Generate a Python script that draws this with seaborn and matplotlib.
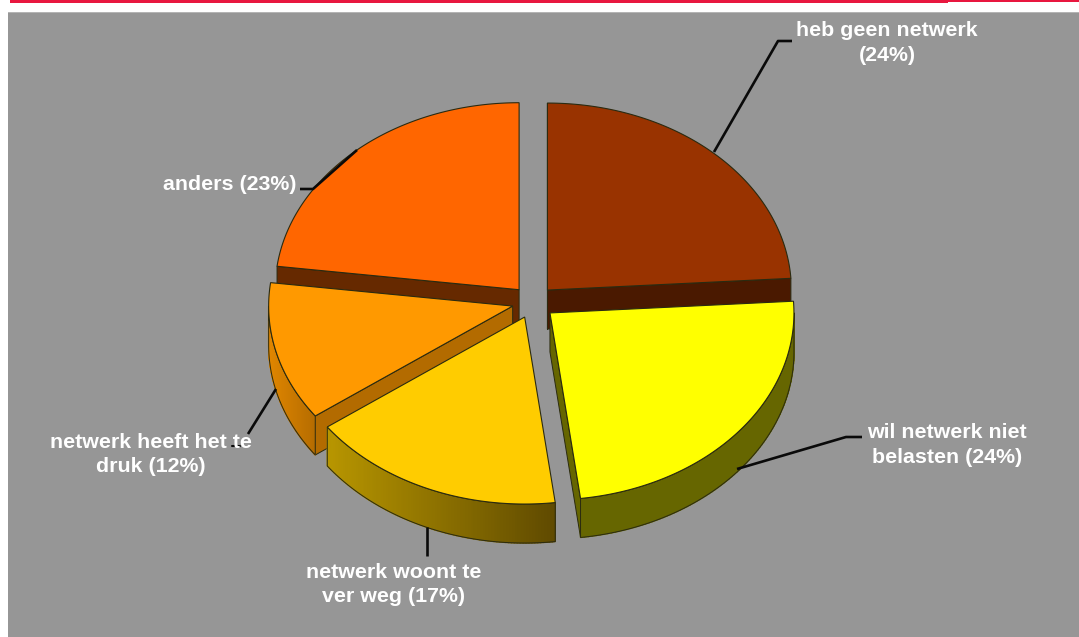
import numpy as np
import matplotlib
matplotlib.use("Agg")
import matplotlib.pyplot as plt
from matplotlib.collections import PolyCollection
from matplotlib.colors import to_rgb
from matplotlib.patches import Polygon, Rectangle
import seaborn as sns

# Reasons and their shares, clockwise from twelve o'clock
label_breaks = [("heb geen netwerk", ""), ("wil netwerk niet", "belasten"),
                ("netwerk woont te", "ver weg"), ("netwerk heeft het te", "druk"), ("anders", "")]
shares = [24, 24, 17, 12, 23]

top_colors = sns.color_palette(["#993300", "#ffff00", "#ffcc00", "#ff9900", "#ff6600"])
cut_colors = ["#4a1900", "#666600", "#665200", "#b36b00", "#662900"]
rim_colors = [("#4a1900", "#4a1900"), ("#666600", "#666600"), ("#b89600", "#5f4a00"),
              ("#e08600", "#b56c00"), ("#662900", "#662900")]

# Pie geometry, in figure pixels
CX, CY = 533, 302
RX, RY = 244, 187
DEPTH = 39
explode = [21, 22, 21, 21, 21]
OUTLINE = "#2a2a10"

label_anchor = [(887, 43), (947, 445), (394, 584.5), (151, 454.5), (229.5, 184.5)]
leaders = [[(792, 41), (778, 41), (714, 152)],
           [(862, 437), (846, 437), (737, 469)],
           [(427, 527), (427, 556)],
           [(276, 389), (248, 434)],
           [(300, 189), (313, 189), (357, 150)]]

sns.set_style("white")
fig = plt.figure(figsize=(10.79, 6.37), dpi=100, facecolor="white")
ax = fig.add_axes([0, 0, 1, 1])
ax.set_xlim(0, 1079)
ax.set_ylim(637, 0)
ax.axis("off")

# Page furniture: red rule and grey panel
ax.add_patch(Rectangle((8, 12), 1071, 625, fc="#969696", ec="none", zorder=0))
ax.add_patch(Rectangle((8, 12), 1071, 1, fc="#b4b4b4", ec="none", zorder=0.1))
ax.add_patch(Rectangle((10, 0), 938, 3, fc="#e8173f", ec="none", zorder=0.2))
ax.add_patch(Rectangle((948, 0), 131, 2, fc="#e8173f", ec="none", zorder=0.2))

for path in leaders:
    xs, ys = zip(*path)
    ax.plot(xs, ys, color="#0a0a0a", lw=1.9, zorder=15, solid_capstyle="butt")

# Stray end of the leader that runs under the fourth label
ax.plot([232, 240], [446, 446], color="#0a0a0a", lw=1.5, zorder=15)


def ellipse_point(center, theta):
    return center[0] + RX * np.sin(theta), center[1] - RY * np.cos(theta)


def draw_slice(index, start, end, order):
    mid = (start + end) / 2
    push = explode[index]
    center = (CX + push * np.sin(mid), CY - push * 0.78 * np.cos(mid))
    thetas = np.linspace(start, end, 120)
    px, py = ellipse_point(center, thetas)

    # Radial cut faces: only those turned towards the viewer
    walls = []
    if np.sin(start) < 1e-6:
        walls.append((px[0], py[0]))
    if np.sin(end) > 1e-6:
        walls.append((px[-1], py[-1]))
    for tx, ty in walls:
        quad = [center, (tx, ty), (tx, ty + DEPTH), (center[0], center[1] + DEPTH)]
        ax.add_patch(Polygon(quad, closed=True, fc=cut_colors[index], ec=OUTLINE,
                             lw=0.7, zorder=order))

    # Outer wall, only its front half shows
    lo, hi = max(start, np.pi / 2), min(end, 3 * np.pi / 2)
    if hi > lo:
        arc = np.linspace(lo, hi, 90)
        ax_, ay_ = ellipse_point(center, arc)
        left, right = map(np.array, map(to_rgb, rim_colors[index]))
        span = ax_.max() - ax_.min()
        strips, fills = [], []
        for k in range(len(arc) - 1):
            strips.append([(ax_[k], ay_[k]), (ax_[k + 1], ay_[k + 1]),
                           (ax_[k + 1], ay_[k + 1] + DEPTH), (ax_[k], ay_[k] + DEPTH)])
            f = ((ax_[k] + ax_[k + 1]) / 2 - ax_.min()) / span
            fills.append(left + (right - left) * f)
        ax.add_collection(PolyCollection(strips, facecolors=fills, edgecolors=fills,
                                         linewidths=1.0, zorder=order + 0.1))
        outline = np.column_stack([np.r_[ax_, ax_[::-1]],
                                   np.r_[ay_, ay_[::-1] + DEPTH]])
        ax.add_patch(Polygon(outline, closed=True, fc="none", ec=OUTLINE, lw=0.7,
                             zorder=order + 0.2))

    # Top face
    face = np.column_stack([np.r_[center[0], px], np.r_[center[1], py]])
    ax.add_patch(Polygon(face, closed=True, fc=top_colors[index], ec=OUTLINE, lw=0.8,
                         zorder=order + 0.3))


bounds = 2 * np.pi * np.r_[0, np.cumsum(shares)] / sum(shares)
paint_order = [0, 4, 3, 1, 2]
for rank, i in enumerate(paint_order):
    draw_slice(i, bounds[i], bounds[i + 1], 1 + rank)

for (first, second), share, (x, y) in zip(label_breaks, shares, label_anchor):
    if not second:
        text = f"{first}\n({share}%)" if len(first) > 10 else f"{first} ({share}%)"
    else:
        text = f"{first}\n{second} ({share}%)"
    ax.text(x, y, text, ha="center", va="center", color="white", fontsize=15.4,
            fontweight="bold", family="Liberation Sans", linespacing=1.38, zorder=20)

fig.savefig("out.png", dpi=100, facecolor="white")
